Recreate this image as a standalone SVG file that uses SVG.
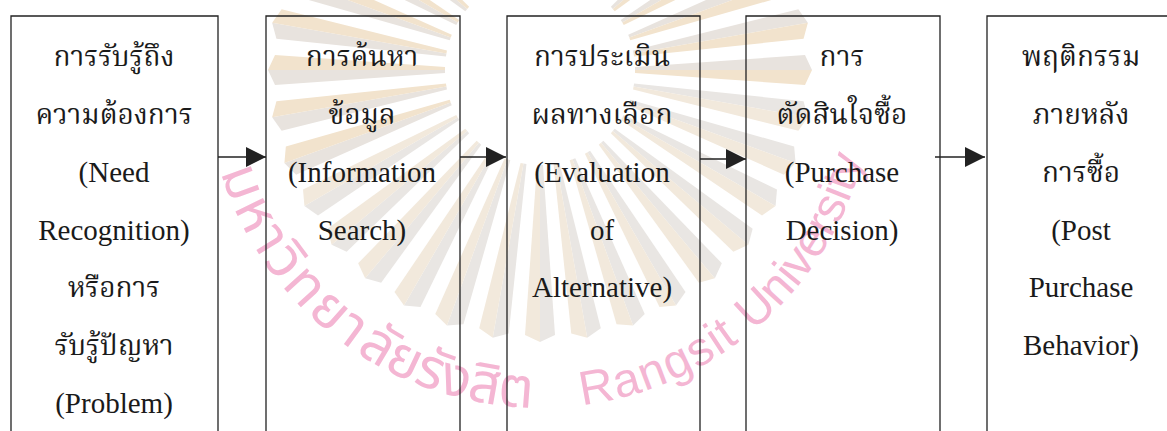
<svg xmlns="http://www.w3.org/2000/svg" xmlns:xlink="http://www.w3.org/1999/xlink" width="1167" height="431" viewBox="0 0 1167 431">
<style>
.box{fill:none;stroke:#222;stroke-width:1.3}
.en{font-family:"Liberation Serif","Times New Roman",serif;font-size:29px;fill:#1a1a1a;text-anchor:middle}
.th{font-family:"Norasi","Kinnari","Noto Serif Thai","Noto Sans Thai","Liberation Serif",serif;font-size:28px;fill:#1a1a1a;text-anchor:middle}
.conn{stroke:#222;stroke-width:1.3;fill:none;marker-end:url(#arrow)}
.wm{font-family:"Liberation Sans","Noto Sans",sans-serif;font-size:48px;fill:#f4b6d3}
.wmth{font-family:"Noto Sans Thai","Liberation Sans",sans-serif;font-size:56px;fill:#f4b6d3}
.rayA{fill:#e9e6e3}
.rayB{fill:#f2e9dc}
.rayOA{fill:#e8e3de}
.rayOB{fill:#f2e3cd}
</style>
<defs>
<marker id="arrow" markerUnits="userSpaceOnUse" markerWidth="20" markerHeight="20" refX="20" refY="10" orient="auto">
<path d="M0,0 L20,10 L0,20 Z" fill="#222"/>
</marker>
<g id="ray">
<polygon class="rayA" points="95,0 95,-3 265,-15 272,0"/>
<polygon class="rayB" points="95,0 95,3 265,15 272,0"/>
</g>
<g id="rayO">
<polygon class="rayOA" points="95,0 95,-3 265,-15 272,0"/>
<polygon class="rayOB" points="95,0 95,3 265,15 272,0"/>
</g>
<path id="wmArc" d="M 211.1 132 A 334 334 0 0 0 872.7 103.1"/>
</defs>
<rect width="1167" height="431" fill="#fff"/>
<g id="watermark">
<g transform="translate(540 70)">
<use xlink:href="#rayO" transform="rotate(0)"/>
<use xlink:href="#ray" transform="rotate(10)"/>
<use xlink:href="#ray" transform="rotate(20)"/>
<use xlink:href="#ray" transform="rotate(30)"/>
<use xlink:href="#ray" transform="rotate(40)"/>
<use xlink:href="#ray" transform="rotate(50)"/>
<use xlink:href="#ray" transform="rotate(60)"/>
<use xlink:href="#ray" transform="rotate(70)"/>
<use xlink:href="#ray" transform="rotate(80)"/>
<use xlink:href="#ray" transform="rotate(90)"/>
<use xlink:href="#ray" transform="rotate(100)"/>
<use xlink:href="#ray" transform="rotate(110)"/>
<use xlink:href="#ray" transform="rotate(120)"/>
<use xlink:href="#ray" transform="rotate(130)"/>
<use xlink:href="#ray" transform="rotate(140)"/>
<use xlink:href="#ray" transform="rotate(150)"/>
<use xlink:href="#rayO" transform="rotate(160)"/>
<use xlink:href="#rayO" transform="rotate(170)"/>
<use xlink:href="#rayO" transform="rotate(180)"/>
<use xlink:href="#rayO" transform="rotate(190)"/>
<use xlink:href="#rayO" transform="rotate(200)"/>
<use xlink:href="#rayO" transform="rotate(210)"/>
<use xlink:href="#rayO" transform="rotate(220)"/>
<use xlink:href="#rayO" transform="rotate(230)"/>
<use xlink:href="#rayO" transform="rotate(240)"/>
<use xlink:href="#rayO" transform="rotate(250)"/>
<use xlink:href="#rayO" transform="rotate(260)"/>
<use xlink:href="#rayO" transform="rotate(270)"/>
<use xlink:href="#rayO" transform="rotate(280)"/>
<use xlink:href="#rayO" transform="rotate(290)"/>
<use xlink:href="#rayO" transform="rotate(300)"/>
<use xlink:href="#rayO" transform="rotate(310)"/>
<use xlink:href="#rayO" transform="rotate(320)"/>
<use xlink:href="#rayO" transform="rotate(330)"/>
<use xlink:href="#rayO" transform="rotate(340)"/>
<use xlink:href="#rayO" transform="rotate(350)"/>
</g>
<text class="wmth"><textPath xlink:href="#wmArc" startOffset="41" textLength="225" lengthAdjust="spacing">มหาวิทยา</textPath></text>
<text class="wmth"><textPath xlink:href="#wmArc" startOffset="270" textLength="188" lengthAdjust="spacing">ลัยรังสิต</textPath></text>
<text class="wm"><textPath xlink:href="#wmArc" startOffset="508" textLength="172" lengthAdjust="spacing">Rangsit</textPath></text>
<text class="wm"><textPath xlink:href="#wmArc" startOffset="697" textLength="208" lengthAdjust="spacing">University</textPath></text>
</g>
<g id="connectors">
<path class="conn" d="M218,157 H266"/>
<path class="conn" d="M460,157 H506"/>
<path class="conn" d="M700,159 H746"/>
<path class="conn" d="M935,157 H985"/>
</g>
<g id="node1">
<path class="box" d="M11,431 V16 H218 V431"/>
<text class="th" x="114" y="66">การรับรู้ถึง</text>
<text class="th" x="114" y="124">ความต้องการ</text>
<text class="en" x="114" y="182">(Need</text>
<text class="en" x="114" y="240">Recognition)</text>
<text class="th" x="114" y="297">หรือการ</text>
<text class="th" x="114" y="355">รับรู้ปัญหา</text>
<text class="en" x="114" y="413">(Problem)</text>
</g>
<g id="node2">
<path class="box" d="M266,431 V16 H460 V431"/>
<text class="th" x="362" y="66">การค้นหา</text>
<text class="th" x="362" y="124">ข้อมูล</text>
<text class="en" x="362" y="182">(Information</text>
<text class="en" x="362" y="240">Search)</text>
</g>
<g id="node3">
<path class="box" d="M507,431 V16 H700 V431"/>
<text class="th" x="602" y="66">การประเมิน</text>
<text class="th" x="602" y="124">ผลทางเลือก</text>
<text class="en" x="602" y="182">(Evaluation</text>
<text class="en" x="602" y="240">of</text>
<text class="en" x="602" y="297">Alternative)</text>
</g>
<g id="node4">
<path class="box" d="M746,431 V16 H940 V431"/>
<text class="th" x="842" y="66">การ</text>
<text class="th" x="842" y="124">ตัดสินใจซื้อ</text>
<text class="en" x="842" y="182">(Purchase</text>
<text class="en" x="842" y="240">Decision)</text>
</g>
<g id="node5">
<path class="box" d="M987,431 V16 H1175 V431"/>
<text class="th" x="1081" y="66">พฤติกรรม</text>
<text class="th" x="1081" y="124">ภายหลัง</text>
<text class="th" x="1081" y="182">การซื้อ</text>
<text class="en" x="1081" y="240">(Post</text>
<text class="en" x="1081" y="297">Purchase</text>
<text class="en" x="1081" y="355">Behavior)</text>
</g>
</svg>
